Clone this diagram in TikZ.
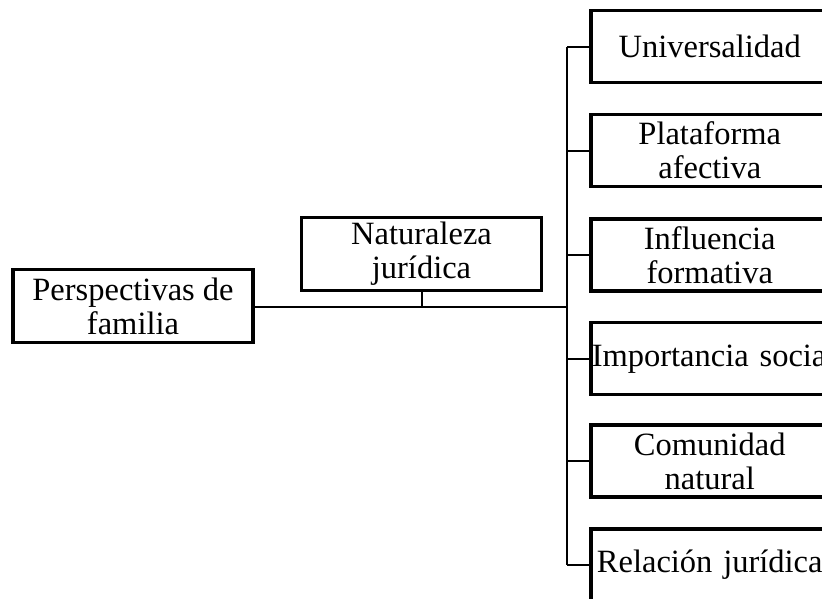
\documentclass[tikz,border=0pt]{standalone}
\usepackage{fontspec}
\setmainfont{Liberation Serif}
\begin{document}
\begin{tikzpicture}[x=1pt,y=-1pt,
  box/.style={draw,line width=3.5pt,rectangle,align=center,inner sep=1pt,font=\fontsize{32.5}{34}\selectfont},
  leftbox/.style={box,minimum width=240pt,minimum height=73pt},
  rightbox/.style={box,anchor=west,text width=236pt,minimum height=72pt},
  conn/.style={line width=2pt}]
\useasboundingbox (0,0) rectangle (822,598);
\clip (0,0) rectangle (822,598);
\node[leftbox] (persp) at (133,306) {Perspectivas de\\familia};
\node[leftbox] (natur) at (421.5,254) {Naturaleza\\jurídica};
\node[rightbox] (univ) at (589,46.5) {Universalidad};
\node[rightbox] (plat) at (589,150.5) {Plataforma\\afectiva};
\node[rightbox] (infl) at (589,255) {Influencia\\formativa};
\node[rightbox] (impo) at (589,358.5) {\mbox{Importancia social}};
\node[rightbox] (comu) at (589,461) {Comunidad\\natural};
\node[rightbox] (rela) at (589,565) {Relación jurídica};
\coordinate (junc) at (567,307);
\coordinate (top) at (567,46.5);
\coordinate (bot) at (567,565);
\draw[conn] (persp.east |- junc) -- (junc);
\draw[conn] (natur.south) -- (natur.south |- junc);
\draw[conn] (top) -- (bot);
\foreach \n in {univ,plat,infl,impo,comu,rela}
  \draw[conn] (\n.west) -- (\n.west -| junc);
\end{tikzpicture}
\end{document}
